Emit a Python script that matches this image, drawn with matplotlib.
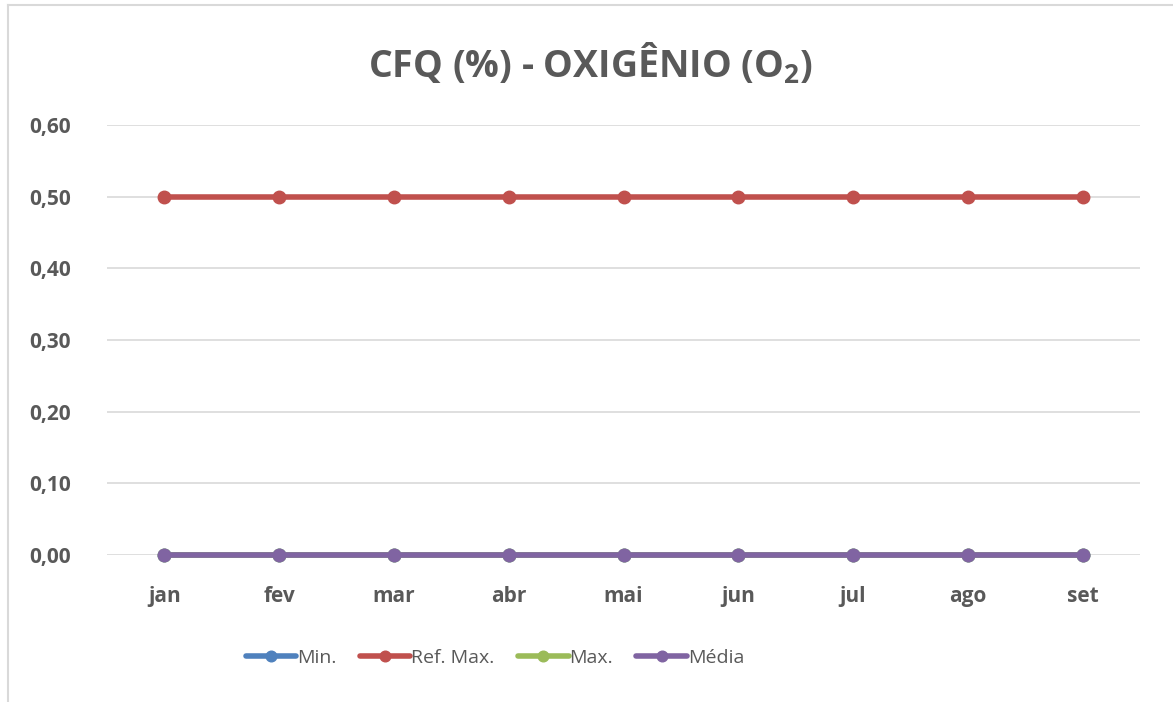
import matplotlib
matplotlib.use("Agg")
import matplotlib.pyplot as plt
from matplotlib.lines import Line2D

# Dados do gráfico
meses = ["jan", "fev", "mar", "abr", "mai", "jun", "jul", "ago", "set"]
minimo = [0.00, 0.00, 0.00, 0.00, 0.00, 0.00, 0.00, 0.00, 0.00]
ref_max = [0.50, 0.50, 0.50, 0.50, 0.50, 0.50, 0.50, 0.50, 0.50]
maximo = [0.00, 0.00, 0.00, 0.00, 0.00, 0.00, 0.00, 0.00, 0.00]
media = [0.00, 0.00, 0.00, 0.00, 0.00, 0.00, 0.00, 0.00, 0.00]
y_ticks = [0.0, 0.1, 0.2, 0.3, 0.4, 0.5, 0.6]

plt.rcParams['font.family'] = ['Open Sans', 'DejaVu Sans']

fig = plt.figure(figsize=(11.73, 7.02), dpi=100)
ax = fig.add_axes([107 / 1173, 147 / 702, 1033 / 1173, 430 / 702])

x = list(range(len(meses)))
series = [
    ("Min.", minimo, "#4F81BD"),
    ("Ref. Max.", ref_max, "#C0504D"),
    ("Max.", maximo, "#9BBB59"),
    ("Média", media, "#8064A2"),
]
for nome, valores, cor in series:
    ax.plot(x, valores, color=cor, linewidth=4, marker="o", markersize=9,
            label=nome, solid_capstyle="round", zorder=3, clip_on=False)

ax.set_xlim(-0.5, len(meses) - 0.5)
ax.set_ylim(0, 0.6)
ax.set_yticks(y_ticks)
ax.set_yticklabels([f"{v:.2f}".replace(".", ",") for v in y_ticks])
ax.set_xticks(x)
ax.set_xticklabels(meses)
ax.grid(axis="y", color="#D9D9D9", linewidth=1.2, zorder=0)
for s in ax.spines.values():
    s.set_visible(False)
ax.tick_params(length=0, labelsize=15, labelcolor="#595959")
ax.tick_params(axis="x", pad=22)
ax.tick_params(axis="y", pad=26)
for lb in ax.get_xticklabels() + ax.get_yticklabels():
    lb.set_fontweight("bold")

fig.text(590 / 1173, 1 - 64 / 702, "CFQ (%) - OXIGÊNIO (O$_\\mathregular{2}$)",
         ha="center", va="center", fontsize=27, fontweight="bold", color="#595959")

leg = fig.legend(loc="center", bbox_to_anchor=(495 / 1173, 1 - 658 / 702), ncol=4,
                 frameon=False, fontsize=14, handlelength=2.6, handletextpad=0.05,
                 columnspacing=1.2, labelcolor="#595959", markerscale=0.85)

# borda do gráfico (esquerda e topo)
fig.add_artist(Line2D([8 / 1173, 8 / 1173], [0, 1 - 5 / 702], color="#D9D9D9", linewidth=1.5))
fig.add_artist(Line2D([8 / 1173, 1], [1 - 5 / 702, 1 - 5 / 702], color="#D9D9D9", linewidth=1.5))

fig.savefig("out.png", dpi=100, facecolor="white")
